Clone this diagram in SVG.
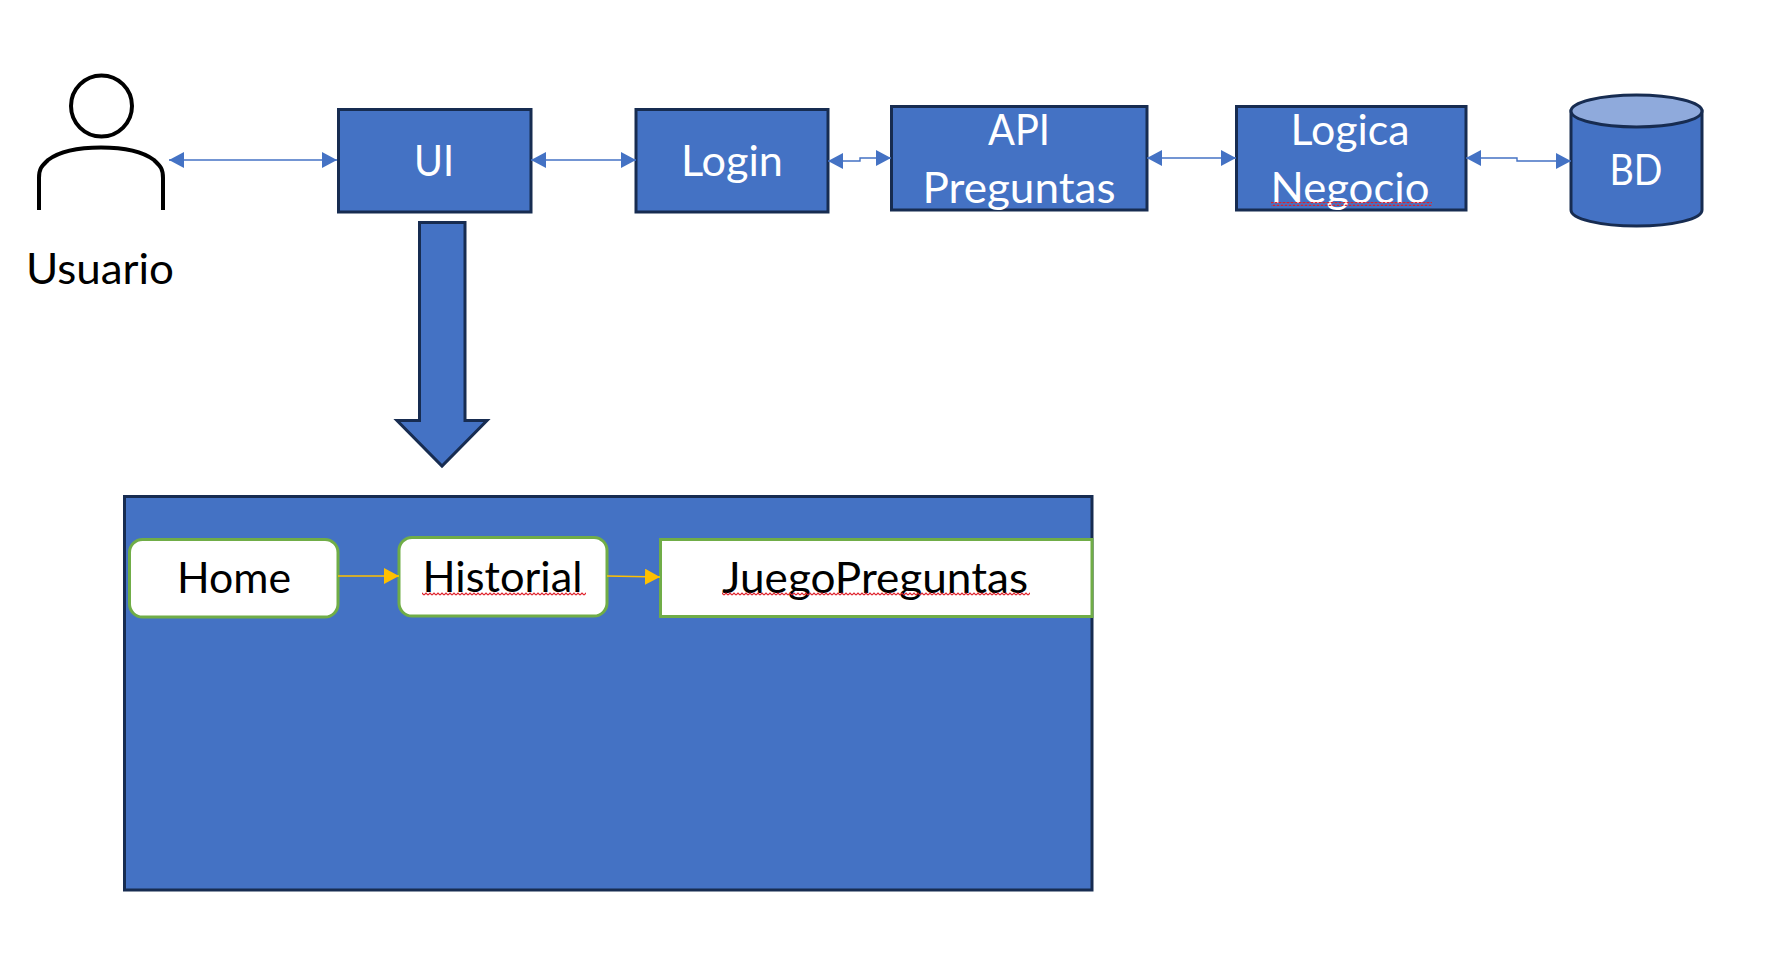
<svg xmlns="http://www.w3.org/2000/svg" width="1777" height="971" viewBox="0 0 1777 971">
<style>
.box{fill:#4472C4;stroke:#172C51;stroke-width:3}
.g{fill:#fff;stroke:#70AD47;stroke-width:3}
text{font-family:Lato,"Liberation Sans",sans-serif;font-size:42px;text-anchor:middle}
.w{fill:#fff}.k{fill:#000}
.c{fill:none;stroke:#4472C4;stroke-width:1.4;marker-end:url(#b);marker-start:url(#bs)}
.o{fill:none;stroke:#FFC000;stroke-width:1.4;marker-end:url(#y)}
</style>
<defs>
<marker id="b" markerUnits="userSpaceOnUse" markerWidth="15" markerHeight="16" refX="15" refY="8" orient="auto"><path d="M0 0L15 8L0 16Z" fill="#4472C4"/></marker>
<marker id="bs" markerUnits="userSpaceOnUse" markerWidth="15" markerHeight="16" refX="0" refY="8" orient="auto"><path d="M15 0L0 8L15 16Z" fill="#4472C4"/></marker>
<marker id="y" markerUnits="userSpaceOnUse" markerWidth="15" markerHeight="16" refX="15" refY="8" orient="auto"><path d="M0 0L15 8L0 16Z" fill="#FFC000"/></marker>
<pattern id="z" patternUnits="userSpaceOnUse" width="4" height="4"><path d="M0 3L2 1L4 3" fill="none" stroke="#E0202A" stroke-width="1.2"/></pattern>
</defs>
<g id="usuario" fill="none" stroke="#000" stroke-width="4">
<circle cx="101.500" cy="106" r="30.500"/>
<path d="M39 210V178C39 168 42 166 48 160C60 151 80 147.500 101 147.500C122 147.500 142 151 154 160C160 166 163 168 163 178V210"/>
<text x="100" y="284" class="k" stroke="none" textLength="148" lengthAdjust="spacingAndGlyphs">Usuario</text>
</g>
<g id="ui"><rect class="box" x="338.500" y="109.500" width="192.500" height="102.500"/><text x="434" y="176" class="w" textLength="40" lengthAdjust="spacingAndGlyphs">UI</text></g>
<g id="login"><rect class="box" x="636" y="109.500" width="192" height="102.500"/><text x="732" y="176" class="w" textLength="102" lengthAdjust="spacingAndGlyphs">Login</text></g>
<g id="api"><rect class="box" x="891.500" y="106.500" width="255.500" height="103.500"/><text x="1019" y="145" class="w" textLength="62" lengthAdjust="spacingAndGlyphs">API</text><text x="1019" y="203" class="w" textLength="193" lengthAdjust="spacingAndGlyphs">Preguntas</text></g>
<g id="logica"><rect class="box" x="1236.500" y="106.500" width="229.500" height="103.500"/><text x="1350" y="145" class="w" textLength="119" lengthAdjust="spacingAndGlyphs">Logica</text><text x="1350" y="203" class="w" textLength="159" lengthAdjust="spacingAndGlyphs">Negocio</text><rect x="1271" y="202" width="161" height="4" fill="url(#z)"/></g>
<g id="bd"><path class="box" d="M1571 111V210C1571 219 1600 226 1636.500 226C1673 226 1702 219 1702 210V111Z"/><ellipse cx="1636.500" cy="111" rx="65.500" ry="16" fill="#8FAADC" stroke="#172C51" stroke-width="3"/><text x="1636" y="185" class="w" textLength="53" lengthAdjust="spacingAndGlyphs">BD</text></g>
<g id="flecha"><path class="box" d="M419.500 222.500H465V420.500H487L442 466L397 420.500H419.500Z"/></g>
<g id="contenedor"><rect class="box" x="124.500" y="496.500" width="967.500" height="393.500"/></g>
<g id="home"><rect class="g" x="129.500" y="539.500" width="208.500" height="77.500" rx="13"/><text x="234" y="593" class="k" textLength="114" lengthAdjust="spacingAndGlyphs">Home</text></g>
<g id="historial"><rect class="g" x="399" y="537.500" width="208" height="78.500" rx="13"/><text x="502.500" y="592" class="k" textLength="160" lengthAdjust="spacingAndGlyphs">Historial</text><rect x="422" y="592" width="164" height="4" fill="url(#z)"/></g>
<g id="juego"><rect class="g" x="660.500" y="539.500" width="431.500" height="77"/><text x="875" y="593" class="k" textLength="306" lengthAdjust="spacingAndGlyphs">JuegoPreguntas</text><rect x="722" y="592" width="308" height="4" fill="url(#z)"/></g>
<g id="conectores">
<path class="c" d="M169 160H337"/>
<path class="c" d="M531 160H636"/>
<path class="c" d="M828 161H860V158H891"/>
<path class="c" d="M1147 158H1236"/>
<path class="c" d="M1466 158H1517V161H1571"/>
<path class="o" d="M338 576H399"/>
<path class="o" d="M607 576L660 577"/>
</g>
</svg>
